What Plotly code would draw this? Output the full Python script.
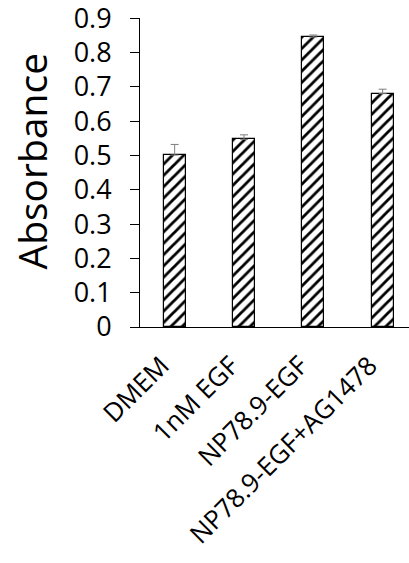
import plotly.graph_objects as go

categories = ["DMEM", "1nM EGF", "NP78.9-EGF", "NP78.9-EGF+AG1478"]
absorbance = [0.501, 0.547, 0.845, 0.680]
errors = [0.031, 0.013, 0.006, 0.013]
y_ticks = [0, 0.1, 0.2, 0.3, 0.4, 0.5, 0.6, 0.7, 0.8, 0.9]
y_tick_labels = ["0", "0.1", "0.2", "0.3", "0.4", "0.5", "0.6", "0.7", "0.8", "0.9"]
y_title = "Absorbance"

L, T, PW, PH = 140, 18, 269, 309
W, H = 409, 563

fig = go.Figure()
fig.add_trace(go.Bar(
    x=categories,
    y=absorbance,
    width=0.32,
    marker=dict(
        color="white",
        line=dict(color="black", width=1.2),
        pattern=dict(shape="/", size=8, solidity=0.35, fgcolor="black",
                     bgcolor="white", fillmode="replace"),
    ),
    error_y=dict(type="data", array=errors, arrayminus=[0] * len(errors),
                 symmetric=False, color="#7f7f7f", thickness=1, width=4),
))

font_family = "Open Sans"
fig.update_layout(
    width=W, height=H,
    margin=dict(l=L, r=W - L - PW, t=T, b=H - T - PH),
    plot_bgcolor="white", paper_bgcolor="white",
    showlegend=False,
    font=dict(family=font_family, color="black"),
    bargap=0,
)
fig.update_xaxes(
    type="category",
    range=[-0.5, 3.38],
    showline=True, linecolor="black", linewidth=1,
    ticks="", tickangle=-45,
    tickfont=dict(size=26, family=font_family, color="black"),
    showgrid=False,
    automargin=False,
    ticklabelstandoff=12,
    ticklabelshift=-13,
    ticklabeloverflow="allow",
)
fig.update_yaxes(
    range=[0, 0.9005],
    tickvals=y_ticks, ticktext=y_tick_labels,
    showline=True, linecolor="black", linewidth=1,
    ticks="outside", ticklen=9, tickcolor="black",
    tickfont=dict(size=27, family=font_family, color="black"),
    showgrid=False, zeroline=False,
    automargin=False,
    ticklabelstandoff=13,
    ticklabeloverflow="allow",
)
fig.add_annotation(
    text=y_title, textangle=-90,
    xref="paper", yref="paper",
    x=(31 - L) / PW, y=(T + PH - 161.5) / PH,
    xanchor="center", yanchor="middle",
    showarrow=False,
    font=dict(size=39, family=font_family, color="black"),
)

fig.write_html("out.html", config={"displayModeBar": False},
               post_script="document.body.style.margin='0px';")
